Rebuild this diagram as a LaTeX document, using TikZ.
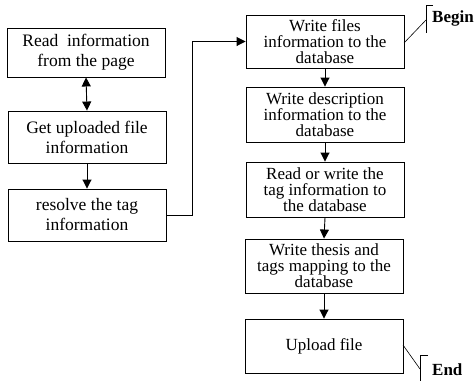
\documentclass[tikz,border=0pt]{standalone}
\usepackage{fontspec}
\setmainfont{Liberation Serif}
\usetikzlibrary{arrows.meta}
\begin{document}
\begin{tikzpicture}[x=1pt,y=-1pt,
  box/.style={draw,line width=0.9pt,minimum width=158pt,align=center,
    inner sep=0pt,font=\fontsize{17}{16}\selectfont},
  wide/.style={font=\fontsize{17.5}{20}\selectfont},
  flow/.style={line width=0.9pt,-{Triangle[width=9pt,length=9pt]}},
  note/.style={line width=0.6pt}]
\useasboundingbox (0,0) rectangle (474,381);
% left column
\node[box,wide,minimum height=49pt] (read) at (86,52.5) {Read\ \ information\\from the page};
\node[box,wide,minimum height=52pt] (get) at (87,137) {Get uploaded file\\information};
\node[box,wide,minimum height=52pt] (res) at (87,215) {resolve the tag\\information};
% right column
\node[box,minimum height=53pt] (wf) at (325,41.5) {Write files\\information to the\\database};
\node[box,minimum height=55pt] (wd) at (325,114.5) {Write description\\information to the\\database};
\node[box,minimum height=55pt] (rw) at (325,189.5) {Read or write the\\tag information to\\the database};
\node[box,minimum height=54pt] (wt) at (324,266) {Write thesis and\\tags mapping to the\\database};
\node[box,minimum height=54pt] (up) at (324,346) {Upload file};
% connectors
\draw[flow,{Triangle[width=9pt,length=9pt]}-{Triangle[width=9pt,length=9pt]}] (read.south) -- (get.north);
\draw[flow] (get) -- (res);
\coordinate (turn) at (192,215);
\draw[flow] (res.east) -- (turn) |- (wf.west);
\draw[flow] (wf.south) -- (wd.north);
\draw[flow] (wd.south) -- (rw.north);
\draw[flow] (rw.south) -- (wt.north);
\draw[flow] (wt.south) -- (up.north);
% begin / end annotations
\node[font=\fontsize{17}{17}\bfseries,anchor=west,inner sep=0pt] (begin) at (432,18) {Begin};
\coordinate (bA) at (404,43);
\coordinate (bB) at (426,20);
\draw[note] (bA) -- (bB);
\draw[note] (433,5) -- (426,5) -- (426,33);
\node[font=\fontsize{17}{17}\bfseries,anchor=west,inner sep=0pt] (end) at (432,370) {End};
\coordinate (eA) at (403,345);
\coordinate (eB) at (420,369);
\draw[note] (eA) -- (eB);
\draw[note] (428,355) -- (420,355) -- (420,381);
\end{tikzpicture}
\end{document}
